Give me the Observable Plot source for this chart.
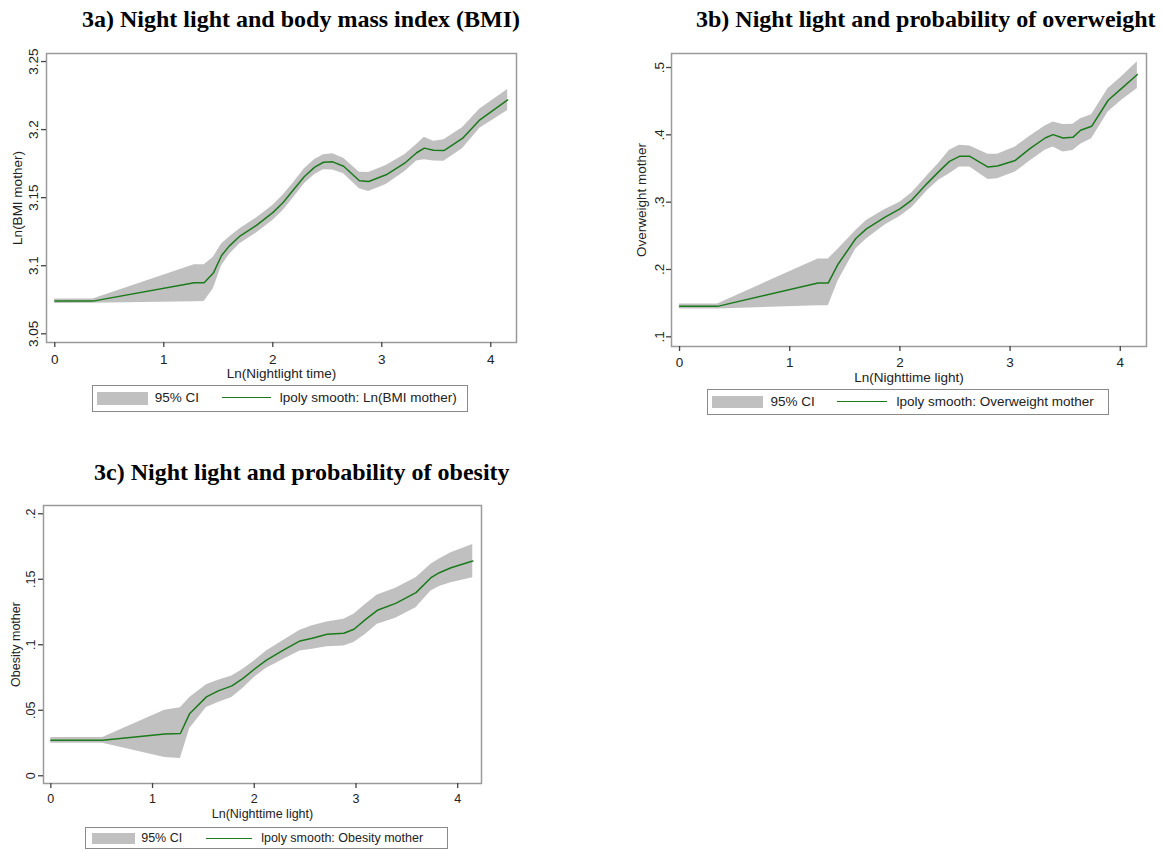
<!DOCTYPE html>
<html><head><meta charset="utf-8">
<script src="https://cdn.jsdelivr.net/npm/d3@7"></script>
<script src="https://cdn.jsdelivr.net/npm/@observablehq/plot@0.6"></script>
<style>
html,body{margin:0;padding:0;background:#fff;overflow:hidden}
#root{position:relative;width:1162px;height:850px;font-family:"Liberation Sans",Arial,sans-serif}
.title{position:absolute;font-family:"Liberation Serif","Times New Roman",serif;font-weight:bold;font-size:24px;line-height:24px;white-space:nowrap;color:#000}
.panel{position:absolute}
.legend{position:absolute;border:1.5px solid #8a8a8a;box-sizing:border-box;background:#fff}
.legend .sw{position:absolute;background:#c0c0c0}
.legend .ln{position:absolute;height:0;border-top:1.5px solid #1b7a1b}
.legend .tx{position:absolute;color:#222;white-space:nowrap}
</style></head>
<body><div id="root"></div>
<script>
// ---- Panel 3a: Ln(BMI mother) ----
const xA   = [0, 0.35, 1.28, 1.37, 1.455, 1.53, 1.60, 1.695, 1.85, 2.0, 2.095, 2.19, 2.29, 2.385, 2.465, 2.55, 2.65, 2.795, 2.88, 3.04, 3.21, 3.32, 3.39, 3.475, 3.57, 3.74, 3.90, 4.155];
const fitA = [3.074, 3.074, 3.0875, 3.0875, 3.0946, 3.1075, 3.1144, 3.1215, 3.1296, 3.139, 3.1465, 3.1558, 3.1655, 3.1724, 3.176, 3.1763, 3.1731, 3.1624, 3.1619, 3.1668, 3.1753, 3.183, 3.1864, 3.1849, 3.1846, 3.1935, 3.2072, 3.2218];
const hiA  = [3.0755, 3.0755, 3.1007, 3.1007, 3.1063, 3.116, 3.121, 3.127, 3.135, 3.1442, 3.152, 3.161, 3.1712, 3.178, 3.1815, 3.1822, 3.179, 3.1687, 3.1685, 3.1736, 3.1815, 3.189, 3.1944, 3.1915, 3.1925, 3.2013, 3.2152, 3.2294];
const loA  = [3.0722, 3.0725, 3.0735, 3.0738, 3.083, 3.1, 3.108, 3.116, 3.124, 3.1332, 3.1405, 3.150, 3.1602, 3.167, 3.1705, 3.1704, 3.1675, 3.1565, 3.1545, 3.1597, 3.169, 3.177, 3.1778, 3.177, 3.1768, 3.1859, 3.201, 3.214];

// ---- Panel 3b: Overweight mother ----
const xB   = [0, 0.345, 1.257, 1.35, 1.44, 1.60, 1.696, 1.865, 2.0, 2.11, 2.25, 2.355, 2.45, 2.54, 2.635, 2.80, 2.885, 3.047, 3.18, 3.318, 3.39, 3.48, 3.57, 3.64, 3.74, 3.89, 4.01, 4.155];
const fitB = [0.1452, 0.1452, 0.1799, 0.180, 0.2082, 0.246, 0.2603, 0.2777, 0.2901, 0.3035, 0.3283, 0.3457, 0.3606, 0.368, 0.368, 0.3521, 0.3536, 0.362, 0.3794, 0.3953, 0.4003, 0.3953, 0.3963, 0.4067, 0.4127, 0.4514, 0.4687, 0.4896];
const hiB  = [0.1487, 0.1487, 0.2157, 0.2157, 0.2305, 0.2578, 0.2727, 0.289, 0.300, 0.314, 0.3397, 0.358, 0.377, 0.3844, 0.3834, 0.371, 0.371, 0.3819, 0.398, 0.413, 0.4191, 0.4152, 0.4157, 0.424, 0.430, 0.4687, 0.486, 0.5084];
const loB  = [0.1412, 0.1412, 0.1462, 0.1462, 0.1834, 0.2305, 0.2454, 0.266, 0.2787, 0.292, 0.3174, 0.333, 0.3422, 0.3521, 0.3521, 0.3337, 0.3348, 0.3447, 0.361, 0.377, 0.3819, 0.3744, 0.3769, 0.386, 0.3943, 0.434, 0.451, 0.4687];

// ---- Panel 3c: Obesity mother ----
const xC   = [0, 0.51, 1.12, 1.274, 1.366, 1.53, 1.646, 1.78, 1.893, 2.0, 2.12, 2.29, 2.45, 2.57, 2.716, 2.88, 2.98, 3.095, 3.21, 3.39, 3.59, 3.737, 3.82, 3.934, 4.148];
const fitC = [0.0272, 0.0272, 0.0318, 0.0323, 0.0476, 0.0602, 0.0648, 0.0686, 0.0745, 0.0813, 0.0882, 0.0961, 0.1029, 0.105, 0.108, 0.1088, 0.1118, 0.1194, 0.1263, 0.1316, 0.1398, 0.1512, 0.155, 0.1588, 0.1639];
const hiC  = [0.0292, 0.0292, 0.050, 0.052, 0.0597, 0.0694, 0.073, 0.0762, 0.0815, 0.0877, 0.0953, 0.1034, 0.111, 0.1145, 0.1174, 0.1194, 0.1233, 0.131, 0.138, 0.1431, 0.1512, 0.1614, 0.1655, 0.1703, 0.1766];
const loC  = [0.0249, 0.0249, 0.014, 0.0132, 0.036, 0.0521, 0.0559, 0.0597, 0.067, 0.075, 0.0821, 0.089, 0.0953, 0.0965, 0.0984, 0.0991, 0.1017, 0.108, 0.1156, 0.1202, 0.1283, 0.141, 0.1445, 0.1474, 0.1512];

// ---- ticks & labels ----
const xTicks = [0, 1, 2, 3, 4];
const xTickLabels = ["0", "1", "2", "3", "4"];
const yTicksA = [3.05, 3.1, 3.15, 3.2, 3.25];
const yTickLabelsA = ["3.05", "3.1", "3.15", "3.2", "3.25"];
const yTicksB = [0.1, 0.2, 0.3, 0.4, 0.5];
const yTickLabelsB = [".1", ".2", ".3", ".4", ".5"];
const yTicksC = [0, 0.05, 0.1, 0.15, 0.2];
const yTickLabelsC = ["0", ".05", ".1", ".15", ".2"];

const titles = [
  "3a) Night light and body mass index (BMI)",
  "3b) Night light and probability of overweight",
  "3c) Night light and probability of obesity"
];
const xLabels = ["Ln(Nightlight time)", "Ln(Nighttime light)", "Ln(Nighttime light)"];
const yLabels = ["Ln(BMI mother)", "Overweight mother", "Obesity mother"];
const ciLabel = "95% CI";
const fitLabels = ["lpoly smooth: Ln(BMI mother)", "lpoly smooth: Overweight mother", "lpoly smooth: Obesity mother"];

const BAND = "#c0c0c0", LINE = "#1b7a1b", INK = "#222";
const root = document.getElementById("root");

function makePlot(o) {
  const data = o.x.map((v, i) => ({x: v, fit: o.fit[i], lo: o.lo[i], hi: o.hi[i]}));
  const yt = o.yTicks.map((v, i) => ({v, label: o.yTickLabels[i]}));
  const fs = o.fs;
  return Plot.plot({
    width: o.width, height: o.height,
    marginTop: o.m[0], marginRight: o.m[1], marginBottom: o.m[2], marginLeft: o.m[3],
    style: {fontFamily: "'Liberation Sans', Arial, sans-serif", fontSize: fs + "px", color: INK, background: "transparent"},
    x: {domain: o.xDomain},
    y: {domain: o.yDomain},
    marks: [
      Plot.areaY(data, {x: "x", y1: "lo", y2: "hi", fill: BAND, curve: "linear"}),
      Plot.lineY(data, {x: "x", y: "fit", stroke: LINE, strokeWidth: 1.5}),
      Plot.frame({stroke: "#9a9a9a", strokeWidth: 1.5}),
      Plot.axisX({ticks: xTicks, tickFormat: (d) => xTickLabels[xTicks.indexOf(d)], tickSize: 5, tickPadding: o.xPad, label: null, line: true, stroke: "#444", strokeWidth: 1.3, fontSize: fs}),
      Plot.axisY({ticks: o.yTicks, tickFormat: () => "", tickSize: 5, label: null, line: true, stroke: "#444", strokeWidth: 1.3}),
      Plot.text(yt, {y: "v", text: "label", frameAnchor: "left", rotate: -90, dx: o.yTickDx, lineAnchor: "bottom", textAnchor: "middle", fill: INK, fontSize: fs}),
      Plot.text([o.yLabel], {frameAnchor: "left", rotate: -90, dx: o.yLabelDx, lineAnchor: "middle", textAnchor: "middle", fill: INK, fontSize: fs}),
      Plot.text([o.xLabel], {frameAnchor: "bottom", dy: o.xLabelDy, lineAnchor: "middle", textAnchor: "middle", fill: INK, fontSize: fs})
    ]
  });
}

function place(el, left, top) {
  el.style.position = "absolute";
  el.style.left = left + "px";
  el.style.top = top + "px";
  root.appendChild(el);
}

function title(text, left, top) {
  const d = document.createElement("div");
  d.className = "title";
  d.textContent = text;
  place(d, left, top);
}

function legend(L) {
  const box = document.createElement("div");
  box.className = "legend";
  box.style.width = L.w + "px";
  box.style.height = L.h + "px";
  const sw = document.createElement("div");
  sw.className = "sw";
  Object.assign(sw.style, {left: L.sw[0] + "px", top: L.sw[1] + "px", width: L.sw[2] + "px", height: L.sw[3] + "px"});
  box.appendChild(sw);
  const t1 = document.createElement("div");
  t1.className = "tx";
  t1.textContent = ciLabel;
  Object.assign(t1.style, {left: L.t1 + "px", top: (L.cy - L.fs / 2) + "px", fontSize: L.fs + "px", lineHeight: L.fs + "px"});
  box.appendChild(t1);
  const ln = document.createElement("div");
  ln.className = "ln";
  Object.assign(ln.style, {left: L.ln[0] + "px", width: L.ln[1] + "px", top: (L.cy - 0.75) + "px"});
  box.appendChild(ln);
  const t2 = document.createElement("div");
  t2.className = "tx";
  t2.textContent = L.text;
  Object.assign(t2.style, {left: L.t2 + "px", top: (L.cy - L.fs / 2) + "px", fontSize: L.fs + "px", lineHeight: L.fs + "px"});
  box.appendChild(t2);
  place(box, L.left, L.top);
}

// Panel a
title(titles[0], 82, 7);
place(makePlot({x: xA, fit: fitA, lo: loA, hi: hiA, xDomain: [-0.076, 4.236], yDomain: [3.0436, 3.2559],
  yTicks: yTicksA, yTickLabels: yTickLabelsA, xLabel: xLabels[0], yLabel: yLabels[0],
  width: 530, height: 345, m: [13, 14, 43, 46], fs: 13.5, xPad: 6.5, yTickDx: -9, yLabelDx: -29, xLabelDy: 31}), 0, 40);
legend({left: 91.7, top: 385, w: 376.3, h: 26.7, sw: [4, 5.5, 51, 13.7], t1: 62, ln: [129, 49], t2: 187, cy: 11.8, fs: 13.5, text: fitLabels[0]});

// Panel b
title(titles[1], 696, 6.5);
place(makePlot({x: xB, fit: fitB, lo: loB, hi: hiB, xDomain: [-0.073, 4.238], yDomain: [0.0856, 0.5208],
  yTicks: yTicksB, yTickLabels: yTickLabelsB, xLabel: xLabels[1], yLabel: yLabels[1],
  width: 570, height: 350, m: [13, 14, 44, 81], fs: 13.5, xPad: 5.5, yTickDx: -8, yLabelDx: -30, xLabelDy: 31}), 590, 40);
legend({left: 707, top: 389, w: 402, h: 26, sw: [4, 6.2, 51, 12.3], t1: 62.5, ln: [128.5, 50], t2: 188.5, cy: 12.2, fs: 13.5, text: fitLabels[1]});

// Panel c
title(titles[2], 94, 460);
place(makePlot({x: xC, fit: fitC, lo: loC, hi: hiC, xDomain: [-0.072, 4.234], yDomain: [-0.0059, 0.2063],
  yTicks: yTicksC, yTickLabels: yTickLabelsC, xLabel: xLabels[2], yLabel: yLabels[2],
  width: 495, height: 335, m: [15, 14, 42, 43], fs: 12.5, xPad: 6, yTickDx: -9, yLabelDx: -28, xLabelDy: 30}), 0, 490);
legend({left: 85, top: 826.7, w: 362.7, h: 22.6, sw: [5.5, 5.1, 43, 11.7], t1: 55.2, ln: [120.2, 46], t2: 175.2, cy: 10.8, fs: 12.5, text: fitLabels[2]});
</script>
</body></html>
